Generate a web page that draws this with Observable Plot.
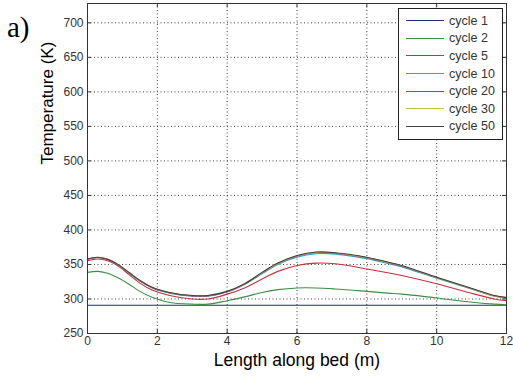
<!DOCTYPE html>
<html>
<head>
<meta charset="utf-8">
<script src="https://cdn.jsdelivr.net/npm/d3@7"></script>
<script src="https://cdn.jsdelivr.net/npm/@observablehq/plot@0.6"></script>
<style>
  html, body { margin: 0; padding: 0; background: #fff; }
  #wrap { position: relative; width: 513px; height: 381px; overflow: hidden; }
  #panel { position: absolute; left: 7px; top: 11px; font-family: "Liberation Serif", "Times New Roman", serif; font-size: 29px; color: #000; }
  #legend { position: absolute; left: 398px; top: 8px; width: 105px; background: #fff; border: 1px solid #222;
            font-family: "Liberation Sans", Arial, sans-serif; font-size: 12.5px; color: #333; padding: 3px 0 4px 0; box-sizing: border-box; }
  .row { display: flex; align-items: center; height: 17.6px; }
  .sw { display: inline-block; width: 38px; height: 1px; margin: 0 5px 0 7px; }
</style>
</head>
<body>
<div id="wrap">
  <div id="chart"></div>
  <div id="panel">a)</div>
  <div id="legend"></div>
</div>
<script>
// ---- data ----
const xPos = [0, 0.3, 0.6, 0.9, 1.2, 1.5, 1.85, 2.35, 3.0, 3.45, 4.0, 4.5, 5.0, 5.45, 6.0, 6.55, 7.1, 8.0, 8.6, 9.0, 10.0, 10.9, 11.65, 12];
const cycle1  = [291, 291, 291, 291, 291, 291, 291, 291, 291, 291, 291, 291, 291, 291, 291, 291, 291, 291, 291, 291, 291, 291, 291, 291];
const cycle2  = [338.5, 340, 337, 330, 321, 311, 302.5, 295, 292.5, 292.5, 297.5, 303, 309.5, 313.5, 316, 316, 314.5, 311, 308.5, 307, 301.5, 296, 292.5, 291.5];
const cycle5  = [355.5, 358, 355, 347, 335, 323, 313, 305, 300, 300, 307, 316, 329, 340, 348.5, 352, 351, 343.5, 338, 334, 322, 309.5, 300, 297.5];
const cycle10 = [357.5, 360, 356.5, 348.5, 337, 326, 316, 308.5, 304, 304, 310, 321, 336.5, 350, 360.5, 365.5, 365, 358.5, 351.5, 346.5, 330, 316, 304, 301.5];
const cycle20 = [357.5, 360, 357, 349, 337.5, 326.5, 316.5, 309, 304.5, 304.5, 310.5, 321.5, 337.5, 351, 362, 367, 366, 359.5, 352.5, 347.5, 331, 316.5, 304.5, 302];
const cycle30 = [358, 360.5, 357, 349, 338, 327, 317, 309.5, 305, 305, 311, 322, 338, 351.5, 362.5, 367.5, 366.5, 360, 353, 348, 331, 316.5, 304.5, 302];
const cycle50 = [358, 360.5, 357, 349, 338, 327, 317, 309.5, 305, 305, 311, 322, 338.5, 352, 363, 368, 367, 360.5, 353.5, 348.5, 331.5, 317, 305, 302];
const seriesNames = ["cycle 1", "cycle 2", "cycle 5", "cycle 10", "cycle 20", "cycle 30", "cycle 50"];
const seriesValues = [cycle1, cycle2, cycle5, cycle10, cycle20, cycle30, cycle50];
const seriesColors = ["#1f2f80", "#3a9040", "#c8303c", "#22b4b4", "#b030b0", "#c8c040", "#404040"];
const xTicks = [0, 2, 4, 6, 8, 10, 12];
const yTicks = [250, 300, 350, 400, 450, 500, 550, 600, 650, 700];
const xLabel = "Length along bed (m)";
const yLabel = "Temperature (K)";

// ---- build table ----
const rows = seriesNames.flatMap((name, i) => xPos.map((x, j) => ({series: name, x, y: seriesValues[i][j]})));

const W = 513, H = 381, mL = 87, mR = 7, mT = 3, mB = 48;
const plotW = W - mL - mR, plotH = H - mT - mB;
const gridStyle = {stroke: "#000", strokeOpacity: 0.75, strokeDasharray: "1,2.5"};

const chart = Plot.plot({
  width: W, height: H,
  marginLeft: mL, marginRight: mR, marginTop: mT, marginBottom: mB,
  style: {fontFamily: "'Liberation Sans', Arial, sans-serif", fontSize: "12px", color: "#333", background: "#fff"},
  x: {domain: [0, 12]},
  y: {domain: [250, 728]},
  color: {domain: seriesNames, range: seriesColors},
  marks: [
    Plot.gridX(xTicks.slice(1, -1), gridStyle),
    Plot.gridY(yTicks.slice(1), gridStyle),
    Plot.line(rows, {x: "x", y: "y", z: "series", stroke: "series", strokeWidth: 1.1, curve: "catmull-rom"}),
    Plot.tickX(xTicks, {x: d => d, stroke: "#333", insetTop: plotH - 4}),
    Plot.tickX(xTicks, {x: d => d, stroke: "#333", insetBottom: plotH - 4}),
    Plot.tickY(yTicks, {y: d => d, stroke: "#333", insetRight: plotW - 4}),
    Plot.tickY(yTicks, {y: d => d, stroke: "#333", insetLeft: plotW - 4}),
    Plot.axisX(xTicks, {tickSize: 0, tickPadding: 3, label: null}),
    Plot.axisY(yTicks, {tickSize: 0, tickPadding: 4, label: null}),
    Plot.frame({stroke: "#333"}),
    Plot.text([xLabel], {frameAnchor: "bottom", dy: 32, fontSize: 17.5, fill: "#000"}),
    Plot.text([yLabel], {frameAnchor: "left", dx: -40, dy: -4, rotate: -90, fontSize: 17, fill: "#000"})
  ]
});
document.getElementById("chart").appendChild(chart);

// ---- legend ----
const legend = document.getElementById("legend");
seriesNames.forEach((name, i) => {
  const row = document.createElement("div");
  row.className = "row";
  const sw = document.createElement("span");
  sw.className = "sw";
  sw.style.backgroundColor = seriesColors[i];
  const t = document.createElement("span");
  t.textContent = name;
  row.appendChild(sw); row.appendChild(t);
  legend.appendChild(row);
});
</script>
</body>
</html>
